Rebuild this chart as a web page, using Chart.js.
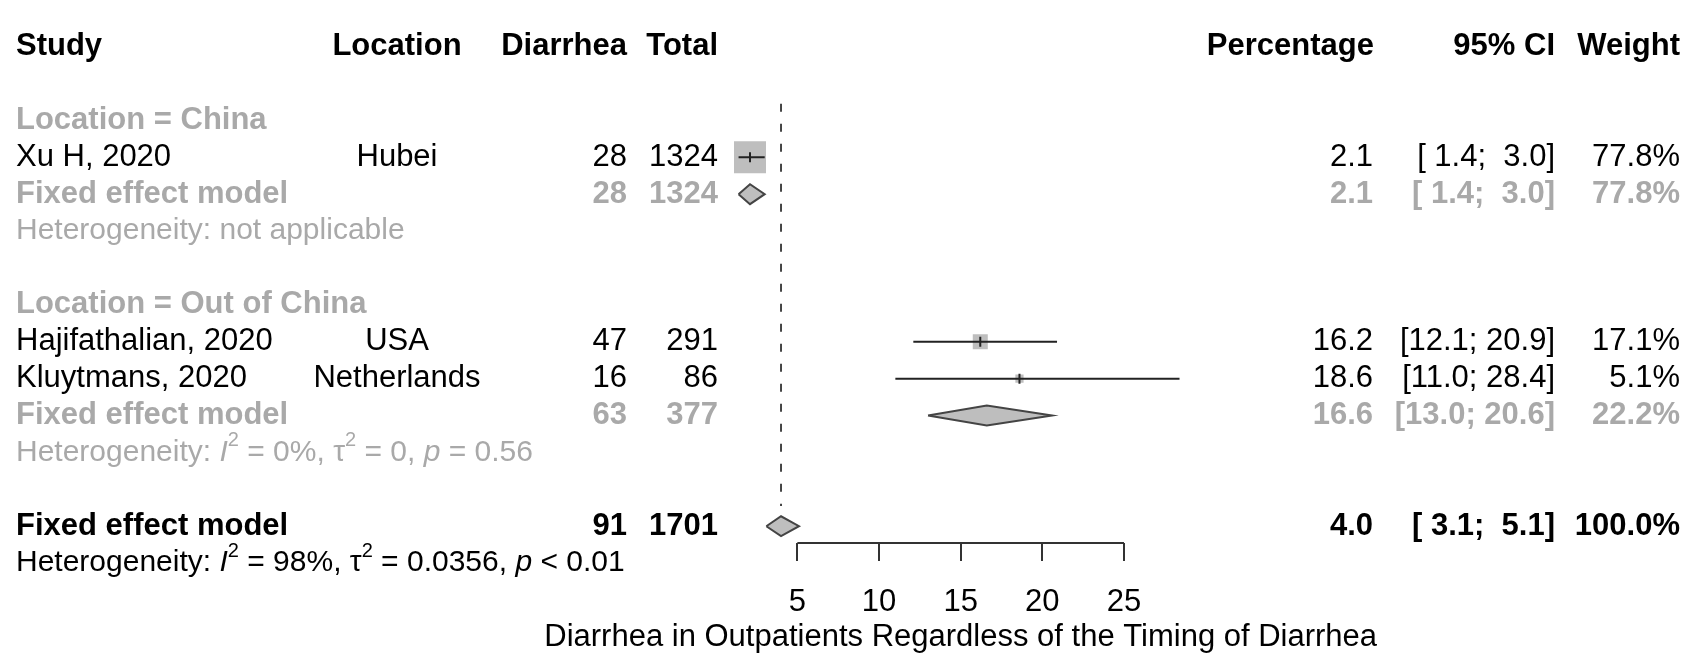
<!DOCTYPE html>
<html>
<head>
<meta charset="utf-8">
<script src="https://cdn.jsdelivr.net/npm/chart.js@4.4.1/dist/chart.umd.min.js"></script>
<style>
  html, body { margin: 0; padding: 0; background: #fff; }
</style>
</head>
<body>
<canvas id="forest" width="1694" height="658"></canvas>
<script>
// study level data
var studies = ['Xu H, 2020', 'Hajifathalian, 2020', 'Kluytmans, 2020'];
var locations = ['Hubei', 'USA', 'Netherlands'];
var studyGroup = [0, 1, 1];
var events = [28, 47, 16];
var totals = [1324, 291, 86];
var est = [2.1, 16.2, 18.6];
var lower = [1.4, 12.1, 11.0];
var upper = [3.0, 20.9, 28.4];
var weights = [77.8, 17.1, 5.1];

// subgroups
var groups = ['China', 'Out of China'];
var groupEvents = [28, 63];
var groupTotals = [1324, 377];
var groupEst = [2.1, 16.6];
var groupLower = [1.4, 13.0];
var groupUpper = [3.0, 20.6];
var groupWeights = [77.8, 22.2];
var groupI2 = [null, '0%'];
var groupTau2 = [null, '0'];
var groupP = [null, '= 0.56'];

// overall
var overallEvents = [91];
var overallTotals = [1701];
var overallEst = [4.0];
var overallLower = [3.1];
var overallUpper = [5.1];
var overallWeights = [100.0];
var overallHet = ['98%', '0.0356', '< 0.01'];

var xTicks = [5, 10, 15, 20, 25];
var xLabel = 'Diarrhea in Outpatients Regardless of the Timing of Diarrhea';

var FONT = '"Liberation Sans", Arial, sans-serif';
var GREY = '#a9a9a9';
var FS = 31, FS_HET = 30;

// row layout (0 = header)
var studyRow = [], groupRow = [], subRow = [], hetRow = [];
var r = 2;
groups.forEach(function (g, gi) {
  groupRow[gi] = r++;
  studies.forEach(function (s, i) {
    if (studyGroup[i] === gi) studyRow[i] = r++;
  });
  subRow[gi] = r++;
  hetRow[gi] = r++;
  r++;
});
var overallRow = r, overallHetRow = r + 1;

var ROW_PX = 38.5, TOP_PX = 25, AXIS_PX = 543;
var PX_PER_UNIT = 16.78, ZERO_PX = 712.1, W = 1694;
var yMin = -TOP_PX / ROW_PX, yMax = (AXIS_PX - TOP_PX) / ROW_PX;
var DIAMOND_H = 0.27;

function fmt1(v) { return v.toFixed(1); }
function pad(v) { var s = fmt1(v); return v < 10 ? ' ' + s : s; }
function ciText(lo, hi) { return '[' + pad(lo) + '; ' + pad(hi) + ']'; }

var datasets = [];

// CI lines
studies.forEach(function (s, i) {
  datasets.push({
    type: 'scatter', showLine: true, order: 1,
    data: [{ x: lower[i], y: studyRow[i] }, { x: upper[i], y: studyRow[i] }],
    borderColor: '#222', borderWidth: 2, pointRadius: 0
  });
});

// point estimate marks
datasets.push({
  type: 'scatter', order: 0,
  data: est.map(function (v, i) { return { x: v, y: studyRow[i] }; }),
  pointStyle: 'line', rotation: 90, pointRadius: 5,
  borderColor: '#222', pointBorderWidth: 2
});

// weighted squares
datasets.push({
  type: 'scatter', order: 2,
  data: est.map(function (v, i) { return { x: v, y: studyRow[i] }; }),
  pointStyle: 'rect',
  pointRadius: weights.map(function (w) { return 3.63 * Math.sqrt(w) / (2 * Math.SQRT1_2); }),
  backgroundColor: '#bebebe', borderColor: '#bebebe', pointBorderWidth: 0
});

// diamonds
function diamond(e, lo, hi, row) {
  datasets.push({
    type: 'scatter', showLine: true, order: 3, fill: 'shape', tension: 0,
    data: [{ x: lo, y: row }, { x: e, y: row - DIAMOND_H }, { x: hi, y: row },
           { x: e, y: row + DIAMOND_H }, { x: lo, y: row }],
    borderColor: '#444', borderWidth: 2, backgroundColor: '#bebebe', pointRadius: 0
  });
}
groups.forEach(function (g, gi) { diamond(groupEst[gi], groupLower[gi], groupUpper[gi], subRow[gi]); });
diamond(overallEst[0], overallLower[0], overallUpper[0], overallRow);

// dashed line at overall estimate
datasets.push({
  type: 'scatter', showLine: true, order: 4,
  data: [{ x: overallEst[0], y: 1.55 }, { x: overallEst[0], y: overallRow - 0.55 }],
  borderColor: '#444', borderWidth: 2, borderDash: [8, 12], pointRadius: 0
});

// axis line
datasets.push({
  type: 'scatter', showLine: true, order: 5, clip: false,
  data: [{ x: xTicks[0], y: yMax }, { x: xTicks[xTicks.length - 1], y: yMax }],
  borderColor: '#333', borderWidth: 2, pointRadius: 0
});

function drawRich(ctx, parts, x, y, size, color) {
  ctx.fillStyle = color;
  ctx.textAlign = 'left';
  ctx.textBaseline = 'middle';
  parts.forEach(function (p) {
    var fs = p.sup ? Math.round(size * 0.65) : size;
    ctx.font = (p.it ? 'italic ' : '') + fs + 'px ' + FONT;
    ctx.fillText(p.t, x, p.sup ? y - size * 0.4 : y);
    x += ctx.measureText(p.t).width;
  });
}
function hetParts(i2, tau, p) {
  return [{ t: 'Heterogeneity: ' }, { t: 'I', it: true }, { t: '2', sup: true },
    { t: ' = ' + i2 + ', ' }, { t: '\u03c4' }, { t: '2', sup: true },
    { t: ' = ' + tau + ', ' }, { t: 'p', it: true }, { t: ' ' + p }];
}

var textPlugin = {
  id: 'forestText',
  afterDraw: function (chart) {
    var ctx = chart.ctx, ys = chart.scales.y, xs = chart.scales.x;
    ctx.save();
    ctx.textBaseline = 'middle';
    function txt(s, x, row, align, bold, color, size) {
      ctx.font = (bold ? 'bold ' : '') + (size || FS) + 'px ' + FONT;
      ctx.fillStyle = color;
      ctx.textAlign = align;
      ctx.fillText(s, x, ys.getPixelForValue(row));
    }
    function cols(row, ev, tot, e, lo, hi, w, bold, color) {
      txt(String(ev), 627, row, 'right', bold, color);
      txt(String(tot), 718, row, 'right', bold, color);
      txt(fmt1(e), 1373, row, 'right', bold, color);
      txt(ciText(lo, hi), 1555, row, 'right', bold, color);
      txt(fmt1(w) + '%', 1680, row, 'right', bold, color);
    }
    // header
    txt('Study', 16, 0, 'left', true, '#000');
    txt('Location', 397, 0, 'center', true, '#000');
    txt('Diarrhea', 627, 0, 'right', true, '#000');
    txt('Total', 718, 0, 'right', true, '#000');
    txt('Percentage', 1374, 0, 'right', true, '#000');
    txt('95% CI', 1555, 0, 'right', true, '#000');
    txt('Weight', 1680, 0, 'right', true, '#000');

    groups.forEach(function (g, gi) {
      txt('Location = ' + g, 16, groupRow[gi], 'left', true, GREY);
      txt('Fixed effect model', 16, subRow[gi], 'left', true, GREY);
      cols(subRow[gi], groupEvents[gi], groupTotals[gi], groupEst[gi], groupLower[gi], groupUpper[gi], groupWeights[gi], true, GREY);
      var hy = ys.getPixelForValue(hetRow[gi]);
      if (groupI2[gi] === null) {
        drawRich(ctx, [{ t: 'Heterogeneity: not applicable' }], 16, hy, FS_HET, GREY);
      } else {
        drawRich(ctx, hetParts(groupI2[gi], groupTau2[gi], groupP[gi]), 16, hy, FS_HET, GREY);
      }
    });
    studies.forEach(function (s, i) {
      txt(s, 16, studyRow[i], 'left', false, '#000');
      txt(locations[i], 397, studyRow[i], 'center', false, '#000');
      cols(studyRow[i], events[i], totals[i], est[i], lower[i], upper[i], weights[i], false, '#000');
    });
    txt('Fixed effect model', 16, overallRow, 'left', true, '#000');
    cols(overallRow, overallEvents[0], overallTotals[0], overallEst[0], overallLower[0], overallUpper[0], overallWeights[0], true, '#000');
    drawRich(ctx, hetParts(overallHet[0], overallHet[1], overallHet[2]), 16, ys.getPixelForValue(overallHetRow), FS_HET, '#000');

    // axis title, centred under the axis
    var cx = (xs.getPixelForValue(xTicks[0]) + xs.getPixelForValue(xTicks[xTicks.length - 1])) / 2;
    ctx.font = FS + 'px ' + FONT;
    ctx.fillStyle = '#000';
    ctx.textAlign = 'center';
    ctx.fillText(xLabel, cx, 637);
    ctx.restore();
  }
};

Chart.defaults.font.family = FONT;

new Chart(document.getElementById('forest'), {
  type: 'scatter',
  data: { datasets: datasets },
  options: {
    responsive: false,
    animation: false,
    events: [],
    layout: { padding: 0 },
    plugins: { legend: { display: false }, tooltip: { enabled: false } },
    scales: {
      x: {
        type: 'linear',
        min: -ZERO_PX / PX_PER_UNIT,
        max: (W - ZERO_PX) / PX_PER_UNIT,
        afterBuildTicks: function (scale) {
          scale.ticks = xTicks.map(function (v) { return { value: v }; });
        },
        afterFit: function (scale) { scale.height = 658 - AXIS_PX; },
        border: { display: false },
        grid: { drawOnChartArea: false, drawTicks: true, tickLength: 18, color: '#333', lineWidth: 2 },
        ticks: { autoSkip: false, maxRotation: 0, padding: 23, color: '#000', font: { size: FS } }
      },
      y: {
        type: 'linear', display: false, reverse: true,
        min: yMin, max: yMax
      }
    }
  },
  plugins: [textPlugin]
});
</script>
</body>
</html>
